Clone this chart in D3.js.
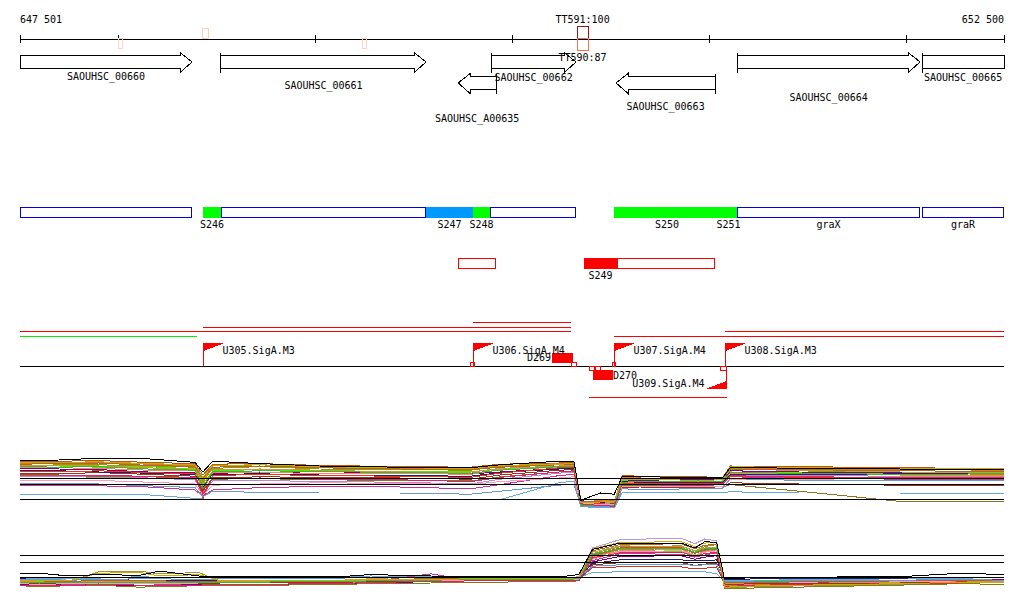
<!DOCTYPE html>
<html>
<head>
<meta charset="utf-8">
<script src="https://cdn.jsdelivr.net/npm/d3@7"></script>
<style>
  body { margin: 0; background: #fff; }
  svg text { font-family: "DejaVu Sans Mono", monospace; font-size: 10px; fill: #000; }
</style>
</head>
<body>
<div id="chart"></div>
<script>
// region shown
const regionStart = 647501, regionEnd = 652500;
const tickValues = [647501, 648001, 649001, 650001, 651001, 652001, 652500];
const endLabels = ['647 501', '652 500'];

// terminators
const termNames = ['', '', '', 'TT591', 'TT590'];
const termStart = [648000, 648426, 649239, 650331, 650331];
const termEnd = [648020, 648456, 649259, 650387, 650387];
const termStrand = ['-', '+', '-', '+', '-'];
const termScore = [20, 25, 20, 100, 87];

// genes
const geneNames = ['SAOUHSC_00660', 'SAOUHSC_00661', 'SAOUHSC_00662', 'SAOUHSC_A00635', 'SAOUHSC_00663', 'SAOUHSC_00664', 'SAOUHSC_00665'];
const geneStart = [647300, 648522, 649894, 649727, 650529, 651144, 652084];
const geneEnd = [648375, 649564, 650326, 649920, 651032, 652074, 652700];
const geneStrand = ['+', '+', '+', '-', '-', '+', '+'];

// segments (forward)
const segNames = ['', 'S246', '', 'S247', 'S248', '', 'S250', 'S251', 'graX', 'graR'];
const segStart = [647300, 648431, 648522, 649564, 649803, 649889, 650519, 651058, 651144, 652084];
const segEnd = [648375, 648522, 649564, 649803, 649889, 650326, 651058, 651144, 652074, 652700];
const segType = ['gene', 'green', 'gene', 'blue', 'green', 'gene', 'green', 'green', 'gene', 'gene'];

// segments (reverse)
const revNames = ['', 'S249', ''];
const revStart = [649727, 650367, 650534];
const revEnd = [649920, 650534, 651032];
const revType = ['open', 'fill', 'open'];

// transcripts
const trStart = [649803, 648431, 647300, 647300, 651083, 650519, 650392];
const trEnd = [650301, 650301, 650301, 648400, 652700, 652700, 651093];
const trType = ['red', 'red', 'red', 'green', 'red', 'red', 'red'];

// promoters
const promNames = ['U305.SigA.M3', 'U306.SigA.M4', 'U307.SigA.M4', 'U308.SigA.M3', 'U309.SigA.M4'];
const promPos = [648431, 649803, 650519, 651083, 651088];
const promStrand = ['+', '+', '+', '+', '-'];

// small boundary marks
const markStart = [649788, 650301, 650392, 650423, 650509, 651058];
const markEnd = [649808, 650326, 650418, 650448, 650524, 651088];
const markStrand = ['+', '+', '-', '-', '+', '-'];

// D features
const dNames = ['D269', 'D270'];
const dStart = [650204, 650413];
const dEnd = [650311, 650514];
const dStrand = ['+', '-'];

// expression panel 1
const expr1Pos = [647501, 647700, 647900, 648150, 648390, 648430, 648480, 648720, 649020, 649430, 649790, 649940,
  650240, 650315, 650350, 650450, 650520, 650560, 650650, 650950, 651070, 651110, 651460, 651970, 652500];
const expr1Ref = [10, 9, 6.5];
const expr1Series = [
  [12.7, 12.8, 12.9, 12.6, 12.4, 10.5, 12.3, 12.4, 12.1, 11.9, 11.8, 12.3, 12.5, 12.6, 6.1, 6.2, 6.0, 10.4, 10.3, 10.2, 10.1, 12.0, 11.9, 11.7, 11.6],
  [12.5, 12.3, 12.2, 12.0, 11.8, 9.5, 11.6, 11.9, 11.5, 11.4, 11.3, 11.9, 12.2, 12.3, 5.8, 5.9, 5.8, 10.0, 9.9, 9.8, 9.8, 11.6, 11.2, 10.8, 10.6],
  [12.2, 12.0, 11.8, 11.9, 11.5, 9.0, 11.2, 11.4, 11.2, 11.1, 11.0, 11.5, 11.9, 12.0, 5.6, 5.5, 5.6, 9.6, 9.5, 9.4, 9.5, 11.0, 10.9, 10.7, 10.8],
  [11.6, 11.5, 11.4, 11.0, 10.9, 8.5, 10.8, 10.9, 10.8, 10.9, 10.7, 11.0, 11.6, 11.7, 6.0, 5.9, 5.8, 9.7, 9.6, 9.8, 9.7, 11.2, 11.0, 10.9, 10.9],
  [11.8, 11.7, 11.6, 11.3, 11.2, 8.0, 10.9, 11.0, 10.7, 10.8, 10.6, 11.4, 11.8, 11.8, 5.7, 5.5, 5.5, 9.2, 9.3, 9.1, 9.2, 10.8, 10.6, 10.5, 10.4],
  [12.4, 12.5, 12.6, 12.3, 12.0, 9.2, 12.0, 12.2, 11.8, 11.6, 11.5, 12.0, 12.4, 12.4, 6.4, 6.3, 6.1, 10.1, 10.0, 9.9, 10.0, 11.7, 11.5, 11.4, 11.3],
  [8.7, 8.8, 8.7, 8.5, 8.0, 7.0, 8.0, 8.4, 8.6, 8.5, 8.2, 8.9, 10.4, 10.6, 5.4, 5.3, 5.4, 8.9, 8.8, 8.7, 8.9, 10.2, 10.0, 9.8, 9.7],
  [7.2, 7.2, 7.2, 7.2, 6.6, 6.5, 6.4, 6.4, 6.4, 6.4, 6.4, 6.4, 9.2, 9.5, 5.2, 5.1, 5.0, 7.6, 7.6, 7.6, 7.6, 7.7, 7.5, 7.5, 7.5],
  [10.2, 10.3, 10.1, 10.0, 9.7, 7.5, 9.5, 9.6, 9.4, 9.3, 9.0, 9.8, 10.8, 11.0, 5.9, 5.8, 5.7, 9.0, 8.9, 9.0, 9.1, 10.5, 10.4, 10.3, 10.2],
  [10.8, 10.7, 10.9, 10.6, 10.3, 7.8, 10.0, 10.2, 10.1, 10.0, 9.8, 10.5, 11.3, 11.4, 5.5, 5.6, 5.7, 8.4, 8.5, 8.4, 8.3, 9.2, 9.0, 8.8, 8.7],
  [11.3, 11.2, 11.0, 10.8, 10.6, 8.8, 10.6, 10.7, 10.5, 10.4, 10.3, 10.9, 11.5, 11.6, 6.2, 6.0, 6.0, 9.4, 9.3, 9.2, 9.3, 10.6, 10.5, 10.7, 10.8],
  [12.0, 12.1, 12.0, 11.7, 11.4, 9.8, 11.4, 11.5, 11.3, 11.0, 11.0, 11.6, 12.0, 12.1, 6.0, 5.8, 5.9, 9.8, 9.8, 9.6, 9.7, 11.4, 11.3, 11.0, 10.9],
  [10.5, 10.4, 10.3, 10.2, 10.0, 8.2, 9.8, 9.9, 9.7, 9.6, 9.5, 10.2, 11.0, 11.1, 5.6, 5.5, 5.4, 8.8, 8.7, 8.6, 8.5, 8.9, 7.8, 6.1, 6.0],
  [11.1, 11.0, 11.2, 10.9, 10.7, 6.5, 10.4, 10.6, 10.4, 10.3, 10.1, 10.8, 11.7, 11.8, 5.9, 5.7, 5.6, 9.1, 9.0, 9.1, 9.0, 10.3, 10.2, 10.1, 10.0],
  [9.6, 9.5, 9.6, 9.3, 9.0, 7.2, 8.8, 9.0, 9.2, 9.1, 8.9, 9.4, 10.0, 10.2, 5.8, 5.6, 5.5, 8.6, 8.5, 8.6, 8.6, 9.8, 9.7, 9.6, 9.5],
  [11.9, 11.8, 11.9, 11.5, 11.3, 8.6, 11.0, 11.2, 11.1, 10.9, 10.8, 11.3, 11.9, 11.9, 5.4, 5.3, 5.5, 9.3, 9.4, 9.5, 9.4, 10.9, 10.8, 10.6, 10.7],
  [12.3, 12.4, 12.5, 12.1, 11.9, 9.9, 11.8, 12.0, 11.7, 11.5, 11.4, 11.8, 12.2, 12.3, 6.0, 6.1, 6.2, 9.9, 10.0, 9.9, 9.9, 11.5, 11.4, 11.2, 11.1],
  [9.0, 9.1, 9.0, 8.7, 8.4, 6.9, 7.8, 7.6, 7.5, 7.5, 7.3, 7.8, 8.8, 9.0, 5.3, 5.2, 5.2, 8.2, 8.1, 8.2, 8.3, 9.9, 9.6, 9.6, 9.5],
  [10.6, 10.5, 10.4, 10.3, 10.1, 7.3, 9.9, 10.0, 9.8, 9.7, 9.4, 10.1, 11.0, 11.2, 5.7, 5.4, 5.3, 9.0, 8.9, 8.8, 8.9, 10.4, 10.1, 10.0, 9.9],
  [12.6, 12.6, 12.7, 12.4, 12.2, 10.1, 12.1, 12.2, 11.9, 11.7, 11.6, 12.1, 12.3, 12.4, 5.9, 6.0, 6.1, 9.9, 10.0, 10.0, 10.1, 11.9, 11.7, 11.6, 11.5],
  [12.9, 13.0, 13.3, 13.2, 12.6, 11.0, 12.8, 12.4, 12.0, 11.8, 11.7, 12.2, 12.8, 12.8, 6.3, 7.5, 7.3, 10.2, 10.2, 10.1, 10.0, 11.8, 11.6, 11.5, 11.4]
];

// expression panel 2
const expr2Pos = [647501, 647600, 647750, 647900, 648110, 648210, 648410, 648520, 649130, 649280, 649590, 649790,
  650250, 650340, 650410, 650550, 650860, 650930, 650980, 651040, 651080, 651260, 651970, 652280, 652500];
const expr2Ref = [10, 9, 6.85];
const expr2Series = [
  [6.6, 6.7, 6.4, 6.5, 6.3, 6.4, 6.2, 6.3, 6.3, 6.4, 6.5, 6.6, 6.6, 6.9, 11.0, 12.2, 12.4, 11.6, 12.3, 12.0, 6.2, 6.0, 6.1, 6.2, 6.0],
  [6.5, 6.4, 6.2, 7.6, 7.7, 7.3, 7.5, 6.2, 6.3, 6.0, 6.4, 6.5, 6.8, 6.6, 10.2, 11.2, 11.3, 10.6, 11.2, 11.5, 5.3, 5.5, 5.8, 6.2, 6.1],
  [6.2, 6.1, 6.0, 6.1, 6.0, 6.2, 6.0, 6.2, 6.3, 6.5, 6.6, 6.6, 6.7, 6.8, 10.0, 11.0, 11.1, 10.2, 10.8, 11.0, 5.8, 6.0, 6.1, 6.3, 6.2],
  [6.0, 5.9, 6.1, 6.0, 5.9, 6.0, 5.8, 6.0, 6.2, 6.3, 6.4, 6.5, 6.6, 6.6, 9.8, 10.8, 10.9, 10.4, 10.6, 10.7, 5.6, 5.8, 6.0, 6.2, 6.1],
  [6.3, 6.2, 6.1, 6.2, 6.2, 6.1, 6.1, 6.1, 6.0, 6.2, 6.3, 6.4, 6.4, 6.5, 9.5, 10.4, 10.5, 9.9, 10.2, 10.4, 6.1, 6.0, 6.2, 6.2, 6.1],
  [6.7, 6.7, 6.6, 6.7, 6.9, 6.8, 6.8, 6.8, 6.9, 7.0, 6.9, 6.8, 6.8, 6.8, 7.5, 7.6, 7.7, 7.7, 7.6, 7.3, 6.3, 6.4, 6.6, 6.6, 6.5],
  [6.1, 6.0, 5.8, 5.9, 6.0, 6.1, 5.9, 6.1, 6.2, 6.3, 6.3, 6.4, 6.5, 6.6, 8.2, 8.3, 8.3, 8.0, 8.1, 8.3, 5.9, 6.0, 6.1, 6.2, 6.1],
  [5.8, 5.7, 5.9, 5.8, 5.6, 5.7, 5.8, 5.7, 5.9, 6.0, 6.2, 6.3, 6.3, 6.4, 9.0, 9.8, 9.9, 9.4, 9.7, 9.9, 5.9, 6.1, 6.2, 6.4, 6.5],
  [5.9, 6.0, 5.8, 5.9, 6.0, 5.8, 5.9, 6.0, 6.1, 6.2, 7.3, 6.4, 6.4, 6.5, 9.2, 10.2, 10.1, 9.7, 10.0, 10.3, 6.0, 6.2, 6.3, 6.4, 6.3],
  [6.4, 6.3, 6.3, 6.2, 6.1, 6.3, 6.1, 6.3, 6.4, 6.6, 6.5, 6.6, 6.7, 6.7, 9.7, 10.6, 10.8, 10.0, 10.5, 10.7, 5.7, 5.9, 6.1, 6.3, 6.3],
  [6.6, 6.5, 6.4, 6.5, 6.4, 6.4, 6.3, 6.4, 6.4, 6.5, 6.6, 6.7, 6.7, 6.8, 8.8, 9.3, 9.3, 9.2, 9.2, 9.3, 6.5, 6.6, 6.7, 6.8, 6.8],
  [6.2, 6.3, 6.2, 6.3, 6.2, 6.2, 6.2, 6.2, 6.3, 6.4, 6.5, 6.6, 6.6, 6.7, 10.4, 11.3, 11.2, 10.6, 11.0, 11.1, 5.9, 5.9, 6.1, 6.3, 6.2],
  [6.0, 6.0, 5.9, 6.0, 5.9, 6.0, 5.9, 6.0, 6.1, 6.2, 6.3, 6.4, 6.4, 6.4, 8.6, 8.9, 8.9, 8.5, 8.7, 8.8, 5.8, 5.9, 6.0, 6.1, 6.0],
  [5.6, 5.5, 5.6, 5.7, 5.4, 5.5, 5.6, 5.6, 5.8, 5.9, 6.0, 6.1, 6.2, 6.3, 9.9, 10.9, 10.9, 10.3, 10.7, 10.8, 5.2, 5.3, 5.7, 5.9, 5.8],
  [5.9, 5.8, 5.9, 6.0, 6.0, 5.9, 6.0, 6.1, 6.2, 6.3, 6.3, 6.3, 6.4, 6.5, 9.4, 10.5, 10.6, 10.0, 10.4, 10.6, 6.0, 6.1, 6.2, 6.3, 6.3],
  [6.1, 6.0, 6.1, 6.1, 6.0, 6.1, 6.0, 6.1, 6.2, 6.3, 6.4, 6.5, 6.5, 6.6, 10.1, 10.9, 11.0, 10.4, 10.9, 11.0, 6.2, 6.2, 6.3, 6.4, 6.3],
  [6.3, 6.3, 6.2, 6.4, 6.3, 6.3, 6.2, 6.3, 6.4, 6.5, 6.6, 6.7, 6.7, 6.8, 10.6, 11.5, 11.6, 10.9, 11.4, 11.5, 6.0, 6.1, 6.3, 6.4, 6.4],
  [6.5, 6.5, 6.4, 6.5, 6.6, 6.6, 6.5, 6.6, 6.7, 6.8, 6.8, 6.7, 6.7, 6.8, 8.4, 8.6, 8.7, 8.5, 8.6, 8.7, 6.2, 6.3, 6.4, 6.5, 6.4],
  [5.7, 5.7, 5.6, 5.8, 5.7, 5.6, 5.7, 5.8, 5.9, 6.1, 6.2, 6.3, 6.3, 6.3, 9.6, 10.3, 10.4, 9.8, 10.2, 10.4, 5.5, 5.7, 5.9, 6.0, 6.0],
  [6.4, 6.4, 6.3, 7.4, 7.5, 7.0, 7.2, 6.3, 6.4, 6.5, 6.5, 6.6, 6.7, 6.8, 10.9, 11.8, 11.9, 11.2, 11.7, 11.8, 5.4, 5.6, 5.9, 6.1, 6.0],
  [7.4, 7.4, 7.0, 7.2, 7.1, 7.7, 7.0, 6.9, 6.9, 7.2, 7.0, 6.9, 6.9, 7.2, 10.8, 11.7, 11.7, 11.0, 11.9, 11.8, 6.6, 6.8, 6.9, 7.4, 7.2]
];

const expr1Colors = ['#b8561e', '#999900', '#66dd00', '#800080', '#ee8866', '#dd7722', '#cc3399', '#66aadd',
  '#bb88cc', '#993322', '#222266', '#cc9933', '#887722', '#ee3322', '#ff99bb', '#33bb33', '#aa6633', '#6699cc',
  '#dd2266', '#ccaa00', '#000000'];
const expr2Colors = ['#bb99dd', '#999933', '#b8561e', '#dd7722', '#66dd00', '#66aadd', '#cc3322', '#800080',
  '#cc3399', '#ee8866', '#222266', '#cc9933', '#993322', '#887722', '#ff99bb', '#33bb33', '#aa6633', '#6699cc',
  '#dd2266', '#ccaa00', '#000000'];

const width = 1024, height = 611;
const left = 20, right = 1004;

const svg = d3.select('#chart').append('svg')
  .attr('width', width)
  .attr('height', height)
  .attr('shape-rendering', 'crispEdges');

svg.append('clipPath').attr('id', 'clip')
  .append('rect').attr('x', left).attr('y', 0).attr('width', right - left + 1).attr('height', height);

const x = d3.scaleLinear().domain([regionStart, regionEnd]).range([left, right]);
const cx = (v) => Math.max(left, Math.min(right, x(v)));

// ruler
const axisG = svg.append('g').attr('transform', 'translate(0,38.5)');
axisG.append('g').call(d3.axisTop(x).tickValues(tickValues).tickSize(4).tickSizeOuter(0).tickFormat(''));
axisG.append('g').call(d3.axisBottom(x).tickValues(tickValues).tickSize(4).tickSizeOuter(0).tickFormat(''));
axisG.selectAll('path,line').attr('stroke', '#000');

svg.append('text').attr('x', left).attr('y', 23).text(endLabels[0]);
svg.append('text').attr('x', right).attr('y', 23).attr('text-anchor', 'end').text(endLabels[1]);

// terminators
const termColor = d3.scaleLinear().domain([20, 87, 100]).range(['#ffd4c4', '#ff7050', '#a01018']);
termNames.forEach((name, i) => {
  const x0 = x(termStart[i]), x1 = x(termEnd[i]);
  const h = termScore[i] > 50 ? 12 : 10;
  const y0 = termStrand[i] === '+' ? 38 - h : 38;
  svg.append('rect')
    .attr('x', x0 + 0.5).attr('y', y0 + 0.5)
    .attr('width', x1 - x0).attr('height', h)
    .attr('fill', 'none').attr('stroke', termColor(termScore[i]));
});

// genes
const geneLabelY = [80, 89, 81, 122, 110, 101, 81];
const geneG = svg.append('g').attr('clip-path', 'url(#clip)');
geneNames.forEach((name, i) => {
  const x0 = x(geneStart[i]), x1 = x(geneEnd[i]);
  const top = geneStrand[i] === '+' ? 55.5 : 76.5, h = 13, head = 12;
  const cutL = x0 < left, cutR = x1 > right;
  const a = cutL ? left + 0.5 : x0, b = cutR ? right + 0.5 : x1;
  let p = '';
  if (geneStrand[i] === '+') {
    if (!cutL) p += `M${a},${top - 3}V${top + h + 4}`;
    if (cutR) p += `M${a},${top}H${b}V${top + h}H${a}Z`;
    else p += `M${a},${top}H${b - head}V${top - 3}L${b},${top + h / 2}L${b - head},${top + h + 4}V${top + h}H${a}Z`;
  } else {
    if (!cutR) p += `M${b},${top - 3}V${top + h + 4}`;
    if (cutL) p += `M${b},${top}H${a}V${top + h}H${b}Z`;
    else p += `M${b},${top}H${a + head}V${top - 3}L${a},${top + h / 2}L${a + head},${top + h + 4}V${top + h}H${b}Z`;
  }
  geneG.append('path').attr('d', p).attr('fill', '#fff').attr('stroke', '#000');
  svg.append('text')
    .attr('x', (cx(geneStart[i]) + cx(geneEnd[i])) / 2)
    .attr('y', geneLabelY[i])
    .attr('text-anchor', 'middle')
    .text(name);
});

// terminator labels on top of the genes
termNames.forEach((name, i) => {
  if (!name) return;
  svg.append('text')
    .attr('x', (x(termStart[i]) + x(termEnd[i])) / 2)
    .attr('y', termStrand[i] === '+' ? 23 : 61)
    .attr('text-anchor', 'middle')
    .text(name + ':' + termScore[i]);
});

// forward segments
const segFill = { gene: '#fff', green: '#00ff00', blue: '#0099ff' };
segNames.forEach((name, i) => {
  const a = cx(segStart[i]), b = cx(segEnd[i]);
  const r = svg.append('rect')
    .attr('x', a + 0.5).attr('y', 207.5)
    .attr('width', b - a - 1).attr('height', 10)
    .attr('fill', segFill[segType[i]]);
  if (segType[i] === 'gene') r.attr('stroke', '#0000dd');
  else r.attr('x', a).attr('y', 207).attr('width', b - a).attr('height', 11);
  if (name) {
    svg.append('text').attr('x', (a + b) / 2).attr('y', 228).attr('text-anchor', 'middle').text(name);
  }
});

// reverse segments
revNames.forEach((name, i) => {
  const a = cx(revStart[i]), b = cx(revEnd[i]);
  if (revType[i] === 'fill') {
    svg.append('rect').attr('x', a).attr('y', 258).attr('width', b - a).attr('height', 11).attr('fill', '#ff0000');
  } else {
    svg.append('rect').attr('x', a + 0.5).attr('y', 258.5).attr('width', b - a - 1).attr('height', 10)
      .attr('fill', '#fff').attr('stroke', '#ff0000');
  }
  if (name) {
    svg.append('text').attr('x', (a + b) / 2).attr('y', 279).attr('text-anchor', 'middle').text(name);
  }
});

// transcripts
const trLaneY = [322, 327, 331, 336, 331, 336, 397];
const trColor = { red: '#ff0000', green: '#00ee00' };
trStart.forEach((s, i) => {
  svg.append('line')
    .attr('x1', cx(s)).attr('x2', cx(trEnd[i]))
    .attr('y1', trLaneY[i] + 0.5).attr('y2', trLaneY[i] + 0.5)
    .attr('stroke', trColor[trType[i]]);
});

// baseline
svg.append('line').attr('x1', left).attr('x2', right).attr('y1', 366.5).attr('y2', 366.5).attr('stroke', '#000');

// D features
dNames.forEach((name, i) => {
  const a = x(dStart[i]), b = x(dEnd[i]);
  const fwd = dStrand[i] === '+';
  svg.append('rect').attr('x', a).attr('y', fwd ? 353 : 370).attr('width', b - a).attr('height', 10).attr('fill', '#ff0000');
  svg.append('text')
    .attr('x', fwd ? a - 1 : b)
    .attr('y', fwd ? 361 : 379)
    .attr('text-anchor', fwd ? 'end' : 'start')
    .text(name);
});

// small marks
markStart.forEach((s, i) => {
  const a = x(s), b = x(markEnd[i]);
  svg.append('rect')
    .attr('x', a + 0.5).attr('y', markStrand[i] === '+' ? 362.5 : 366.5)
    .attr('width', Math.max(3, b - a)).attr('height', 4)
    .attr('fill', 'none').attr('stroke', '#ff0000');
});

// promoters
promNames.forEach((name, i) => {
  const px = Math.round(x(promPos[i])) + 0.5;
  const fwd = promStrand[i] === '+';
  const tip = fwd ? 343 : 389;
  svg.append('line').attr('x1', px).attr('x2', px).attr('y1', 366).attr('y2', tip).attr('stroke', '#ff0000');
  const pts = fwd
    ? [[px, tip], [px + 21, tip], [px, tip + 8]]
    : [[px, tip], [px - 21, tip], [px, tip - 8]];
  svg.append('path').attr('d', d3.line()(pts) + 'Z').attr('fill', '#ff0000');
  svg.append('text')
    .attr('x', fwd ? px + 19 : px - 22)
    .attr('y', fwd ? 354 : 387)
    .attr('text-anchor', fwd ? 'start' : 'end')
    .text(name);
});

// expression panels
function drawPanel(pos, series, colors, refs, y) {
  const g = svg.append('g').attr('clip-path', 'url(#clip)');
  const line = d3.line().x((d, j) => x(pos[j])).y((d) => y(d));
  series.forEach((s, i) => {
    g.append('path').attr('d', line(s)).attr('fill', 'none').attr('stroke', colors[i]).attr('stroke-width', 1);
  });
  refs.forEach((r) => {
    g.append('line').attr('x1', left).attr('x2', right)
      .attr('y1', Math.round(y(r)) + 0.5).attr('y2', Math.round(y(r)) + 0.5)
      .attr('stroke', '#000');
  });
}

const y1 = d3.scaleLinear().domain([4, 14]).range([514, 454]);
const y2 = d3.scaleLinear().domain([4, 14]).range([597, 527]);
drawPanel(expr1Pos, expr1Series, expr1Colors, expr1Ref, y1);
drawPanel(expr2Pos, expr2Series, expr2Colors, expr2Ref, y2);
</script>
</body>
</html>
